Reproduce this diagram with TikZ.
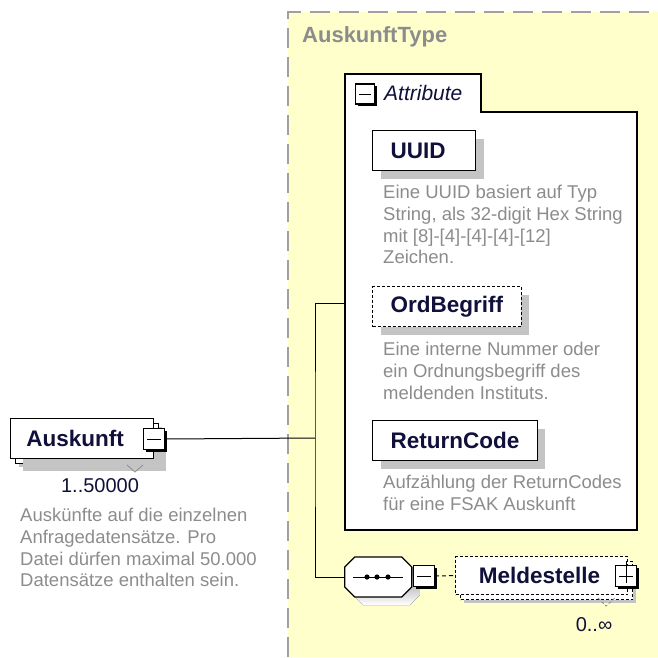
\documentclass[tikz,border=0pt]{standalone}
\usepackage{fontspec}
\setmainfont{Liberation Sans}
\usetikzlibrary{positioning,shadows}

\definecolor{typebg}{HTML}{FFFFCC}
\definecolor{typeline}{HTML}{A0A0A0}
\definecolor{shade}{HTML}{C4C4C4}
\definecolor{doc}{HTML}{8C8C8C}
\definecolor{navy}{HTML}{10103A}

\tikzset{
  elem/.style={draw,line width=1.2pt,fill=white,anchor=north west,
    font=\bfseries\fontsize{22.5}{26}\selectfont,text=navy,
    inner xsep=18pt,inner ysep=0pt,minimum height=40pt,
    drop shadow={shadow xshift=8pt,shadow yshift=-8pt,fill=shade,opacity=1}},
  optelem/.style={elem,dash pattern=on 3pt off 2pt},
  manyelem/.style={copy shadow={shadow xshift=5pt,shadow yshift=-5pt}},
  docs/.style={anchor=north west,inner sep=0pt,text=doc,align=left,
    font=\fontsize{18.5}{21.7}\selectfont},
  togglebox/.style={draw,line width=1pt,fill=white,minimum size=21pt,inner sep=0pt,
    drop shadow={shadow xshift=2pt,shadow yshift=-2pt,fill=black,opacity=1}},
  occurs/.style={text=navy,font=\fontsize{20}{24}\selectfont,inner sep=0pt},
  conn/.style={line width=1pt}
}

\begin{document}
\begin{tikzpicture}[x=1pt,y=-1pt]
  \useasboundingbox (0,0) rectangle (658,657);

  % complex type area
  \fill[typebg] (288,12) rectangle (658,657);
  \draw[typeline,line width=1.5pt,dash pattern=on 20pt off 9pt] (288,657) -- (288,12) -- (658,12);
  \node[anchor=west,text=doc,font=\bfseries\fontsize{22}{26}\selectfont,inner sep=0pt] (typename) at (302,37) {AuskunftType};

  % attribute group
  \draw[line width=1.2pt,fill=white] (345,530) -- (345,74) -- (481,74) -- (481,112) -- (637,112) -- (637,530) -- cycle;
  \node[togglebox,line width=1.2pt,minimum width=19pt,minimum height=20pt] (attrtoggle) at (365,94) {};
  \draw[line width=1pt] (attrtoggle.west) ++(4pt,0) -- ([xshift=-4pt]attrtoggle.east);
  \node[anchor=west,text=navy,font=\itshape\fontsize{21}{24}\selectfont,inner sep=0pt] (attrname) at (384,93) {Attribute};
  \coordinate (attrin) at (345,303);

  \node[elem,text width=67pt,align=left] (uuid) at (372,130) {UUID};
  \node[docs] (uuiddoc) at (383,185) {Eine UUID basiert auf Typ\\String, als 32-digit Hex String\\mit [8]-[4]-[4]-[4]-[12]\\Zeichen.};

  \node[optelem] (ordbegriff) at (372,286) {OrdBegriff};
  \node[docs] (ordbegriffdoc) at (383,342) {Eine interne Nummer oder\\ein Ordnungsbegriff des\\meldenden Instituts.};

  \node[elem] (returncode) at (372,420) {ReturnCode};
  \node[docs] (returncodedoc) at (383,475) {Aufzählung der ReturnCodes\\für eine FSAK Auskunft};

  % root element
  \node[elem,manyelem,drop shadow={shadow xshift=12pt,shadow yshift=-12pt,fill=shade,opacity=1},
        minimum width=143pt,inner xsep=12pt] (auskunft) at (10,418) {Auskunft\hspace*{14pt}};
  \node[togglebox] (auskunfttoggle) at (154,439) {};
  \draw (auskunfttoggle.west) ++(4pt,0) -- ([xshift=-4pt]auskunfttoggle.east);
  \draw[doc,line width=0.8pt] (127,465) -- (135,472) -- (143,465);
  \node[occurs] (auskunftocc) at (100,486) {1..50000};
  \node[docs] (auskunftdoc) at (20,508) {Auskünfte auf die einzelnen\\Anfragedatensätze. Pro\\Datei dürfen maximal 50.000\\Datensätze enthalten sein.};

  % sequence
  \node[minimum width=67pt,minimum height=40pt,inner sep=0pt] (seq) at (378.5,577) {};
  \fill[shade] ([shift={(8pt,-8pt)}]seq.west) ++(0,-10pt) -- ++(10pt,-10pt) -- ++(47pt,0) -- ++(10pt,10pt)
    -- ++(0,20pt) -- ++(-10pt,10pt) -- ++(-47pt,0) -- ++(-10pt,-10pt) -- cycle;
  \draw[line width=1.2pt,fill=white] (seq.west) ++(0,-10pt) -- ++(10pt,-10pt) -- ++(47pt,0) -- ++(10pt,10pt)
    -- ++(0,20pt) -- ++(-10pt,10pt) -- ++(-47pt,0) -- ++(-10pt,-10pt) -- cycle;
  \draw[line width=1pt] (353,577) -- (403,577);
  \foreach \d in {367,377,388}
    \fill (\d,577) circle (2.6pt);
  \node[togglebox] (seqtoggle) at (424,576) {};
  \draw (seqtoggle.west) ++(4pt,0) -- ([xshift=-4pt]seqtoggle.east);

  \node[optelem,manyelem,minimum width=172pt,minimum height=38pt] (meldestelle) at (455,556) {Meldestelle\hspace*{4pt}};
  \node[togglebox] (meldetoggle) at (626,576) {};
  \draw (meldetoggle.west) ++(4pt,0) -- ([xshift=-4pt]meldetoggle.east);
  \draw (meldetoggle.north) ++(0,4pt) -- ([yshift=4pt]meldetoggle.south);
  \draw[doc,line width=0.8pt,dash pattern=on 3pt off 2pt] (598,598) -- (606,606) -- (615,598);
  \node[occurs] (meldeocc) at (594,625) {0..∞};

  % connectors
  \coordinate (fork) at (315,438);
  \draw[conn] (auskunfttoggle.east) -- (fork);
  \draw[conn] (attrin) -| (fork) |- (seq.west);
  \draw[conn,dash pattern=on 4pt off 3pt] (seqtoggle.east) -- (meldestelle.west);
\end{tikzpicture}
\end{document}
